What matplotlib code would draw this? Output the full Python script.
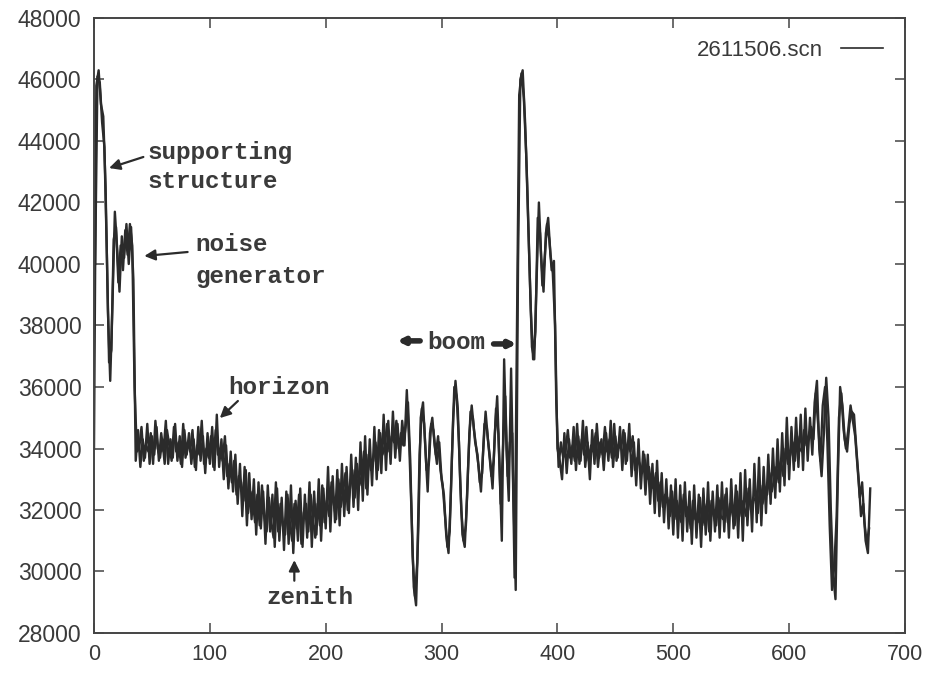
import numpy as np
import matplotlib
matplotlib.use('Agg')
import matplotlib.pyplot as plt

# Two overlapping scans.
# scan_a: even samples 0, 2, ..., 670   scan_b: odd samples 1, 3, ..., 669
scan_a = [
    34000, 45800, 46300, 45200, 44800, 42500, 38500, 36200, 38800, 41700,   # 0
    40500, 39100, 40900, 40200, 41300, 40000, 41200, 39500, 33600, 34600,   # 20
    33400, 34300, 33700, 34800, 33500, 34400, 33800, 34700, 33600, 34500,   # 40
    33900, 34900, 33500, 34300, 33700, 34800, 33600, 34400, 33400, 34600,   # 60
    33800, 34500, 33500, 34300, 33300, 34700, 33600, 34400, 33200, 34500,   # 80
    33500, 34700, 33300, 35100, 33400, 34300, 33000, 34100, 32700, 33900,   # 100
    32600, 33800, 32200, 33500, 31800, 33400, 31500, 33200, 31700, 33000,   # 120
    31200, 32900, 31400, 32600, 30900, 32800, 31300, 32500, 30800, 32700,   # 140
    31000, 32400, 30700, 32600, 30900, 32800, 30600, 32300, 31000, 32700,   # 160
    30800, 32500, 31100, 32900, 30800, 32600, 31200, 33000, 31000, 32700,   # 180
    31400, 33400, 31300, 33100, 31600, 33300, 31500, 33500, 31800, 33400,   # 200
    31900, 33800, 32100, 33700, 32000, 34200, 32300, 34400, 32500, 34300,   # 220
    32800, 34700, 33000, 34600, 33200, 35100, 33300, 34900, 33500, 35200,   # 240
    33700, 34800, 33600, 34900, 34100, 35900, 34200, 32000, 29500, 28900,   # 260
    31500, 35000, 35500, 34000, 32600, 34500, 35000, 34100, 33500, 34200,   # 280
    33000, 32500, 31200, 30600, 32500, 35000, 36200, 35300, 33000, 31200,   # 300
    30800, 32400, 34500, 35400, 34600, 34000, 33400, 32600, 34000, 35200,   # 320
    34300, 33600, 32700, 34500, 35700, 33500, 31000, 36900, 34000, 32300,   # 340
    36600, 32500, 29400, 40000, 46000, 46300, 44700, 42500, 39800, 37300,   # 360
    36900, 39500, 42000, 40200, 39100, 41000, 41500, 40300, 39700, 38000,   # 380
    34000, 33600, 33000, 34500, 33200, 34300, 33500, 34700, 33300, 34400,   # 400
    33600, 34900, 33400, 34200, 33000, 34600, 33500, 34800, 33700, 34300,   # 420
    33300, 34500, 33600, 34900, 33400, 34400, 33700, 34700, 33300, 34500,   # 440
    33600, 34800, 33100, 34200, 32800, 34300, 32700, 33900, 32500, 33800,   # 460
    32200, 33500, 31900, 33600, 31800, 33200, 31600, 33000, 31400, 32800,   # 480
    31200, 33000, 31100, 32800, 31000, 32900, 31300, 32600, 30900, 32800,   # 500
    31100, 32500, 30800, 32700, 31200, 32900, 31000, 32600, 31300, 32800,   # 520
    31100, 32900, 31300, 32700, 31100, 33000, 31400, 32800, 31100, 33200,   # 540
    31000, 33300, 31500, 33000, 31300, 33500, 31600, 33700, 31500, 33400,   # 560
    31900, 33800, 32200, 34000, 32400, 34300, 32600, 34500, 32800, 35000,   # 580
    33000, 34700, 33300, 35000, 33400, 35100, 33300, 35300, 33600, 35000,   # 600
    33800, 35500, 36200, 34000, 33100, 34500, 36300, 35000, 32000, 29900,   # 620
    29100, 33000, 36000, 35400, 34300, 33900, 34800, 35200, 35100, 34000,   # 640
    33000, 31800, 32200, 31000, 30600, 32700,                               # 660
]
scan_b = [
    40000, 46100, 45900, 44600, 43800, 40500, 36800, 37200, 40800, 41200,   # 1
    39400, 40600, 39800, 41100, 40300, 41300, 40600, 36000, 33900, 34000,   # 21
    34700, 33600, 34100, 33900, 34500, 33500, 34900, 34000, 33700, 34300,   # 41
    33500, 34600, 34100, 33600, 34700, 33900, 34200, 33500, 34800, 33700,   # 61
    34200, 33900, 34600, 33400, 34100, 33800, 34900, 33500, 34000, 33700,   # 81
    34400, 33400, 34600, 33800, 34000, 33600, 34400, 33100, 33500, 32900,   # 101
    33600, 32500, 33100, 32900, 32300, 33300, 31900, 32600, 32300, 31600,   # 121
    32500, 31500, 32800, 31800, 31300, 32400, 31600, 31100, 32900, 31300,   # 141
    32200, 31500, 31200, 32500, 31600, 31000, 32200, 31400, 32500, 30900,   # 161
    31900, 32200, 31300, 32500, 31700, 31100, 32200, 31500, 32800, 31600,   # 181
    32300, 31800, 32900, 32200, 31700, 33000, 32100, 32600, 33200, 32000,   # 201
    32700, 33300, 32400, 33500, 32800, 33100, 33900, 32700, 33800, 33300,   # 221
    33600, 34200, 33300, 34500, 33800, 34100, 34800, 33900, 34400, 34200,   # 241
    34900, 34000, 34500, 34100, 34700, 35500, 33600, 30500, 29200, 30300,   # 261
    33800, 35300, 34800, 33300, 33500, 34800, 34600, 33800, 34400, 33300,   # 281
    32800, 31800, 30800, 31300, 33800, 36000, 35700, 34200, 32000, 31000,   # 301
    31500, 33500, 35200, 35000, 34200, 33800, 32900, 33200, 34800, 34700,   # 321
    33900, 33100, 33600, 35300, 34500, 32200, 34000, 35700, 33100, 34200,   # 341
    34500, 29800, 37500, 45500, 46200, 45400, 43600, 41000, 38500, 36900,   # 361
    37800, 41500, 41000, 39300, 40200, 41300, 40800, 39800, 40100, 35500,   # 381
    33400, 34200, 33700, 33900, 34600, 33700, 34100, 33600, 34800, 33500,   # 401
    34300, 33800, 34700, 33600, 34100, 33900, 34500, 33400, 34200, 33800,   # 421
    34700, 33900, 34300, 33700, 34800, 33600, 34100, 34000, 34600, 33500,   # 441
    34200, 33900, 34400, 33300, 33700, 33500, 33200, 33800, 33000, 33400,   # 461
    32800, 32700, 33200, 32300, 32900, 32100, 32500, 32400, 31800, 32600,   # 481
    31700, 32300, 31900, 31600, 32500, 31800, 32100, 31400, 32300, 31700,   # 501
    31600, 32400, 31500, 31900, 32200, 31300, 32300, 31800, 31500, 32400,   # 521
    31800, 31700, 32500, 31600, 32200, 31900, 31500, 32600, 31800, 32300,   # 541
    32100, 31800, 32700, 32000, 32400, 32300, 31900, 32800, 32200, 32600,   # 561
    32500, 33200, 32600, 33000, 33400, 32900, 33600, 33100, 34000, 33500,   # 581
    33800, 34200, 33600, 34400, 34000, 33900, 34600, 34100, 34400, 34700,   # 601
    34300, 35800, 34800, 33600, 35400, 36000, 34200, 31500, 29400, 30200,   # 621
    31800, 35000, 35800, 34600, 34000, 34600, 35400, 34900, 34400, 33400,   # 641
    32400, 32900, 31600, 30900, 31400,                                      # 661
]
samples_a = np.arange(len(scan_a)) * 2
samples_b = np.arange(len(scan_b)) * 2 + 1

x_ticks = [0, 100, 200, 300, 400, 500, 600, 700]
y_ticks = [28000, 30000, 32000, 34000, 36000, 38000, 40000, 42000, 44000, 46000, 48000]

INK = '#2b2b2b'
LABEL_FONT = dict(family='Liberation Mono', fontweight='bold', fontsize=17.5, color='#3a3a3a')
ARROW = dict(arrowstyle='-|>', color=INK, lw=1.6, mutation_scale=16, shrinkA=0, shrinkB=0)

fig = plt.figure(figsize=(9.31, 6.73), dpi=100)
ax = fig.add_axes([94 / 931, 1 - 633 / 673, (905 - 94) / 931, (633 - 18) / 673])

ax.plot(samples_a, scan_a, color=INK, lw=1.7, label='2611506.scn')
ax.plot(samples_b, scan_b, color=INK, lw=1.7)

ax.set_xlim(0, 700)
ax.set_ylim(28000, 48000)
ax.set_xticks(x_ticks)
ax.set_yticks(y_ticks)
ax.tick_params(direction='in', top=True, right=True, length=7, width=1.1, color='#444444')
ax.tick_params(axis='y', labelsize=16.5, pad=9, labelcolor='#3a3a3a')
ax.tick_params(axis='x', labelsize=15.5, pad=8, labelcolor='#3a3a3a')
for lab in ax.get_xticklabels() + ax.get_yticklabels():
    lab.set_family('Liberation Sans')
for sp in ax.spines.values():
    sp.set_linewidth(1.4)
    sp.set_color('#444444')

# annotations
ax.annotate('', xy=(13, 43120), xytext=(42.6, 43480), arrowprops=ARROW)
ax.text(46, 43640, 'supporting', va='center', ha='left', **LABEL_FONT)
ax.text(46, 42670, 'structure', va='center', ha='left', **LABEL_FONT)

ax.annotate('', xy=(43.4, 40260), xytext=(80.8, 40390), arrowprops=ARROW)
ax.text(87.7, 40620, 'noise', va='center', ha='left', **LABEL_FONT)
ax.text(87.7, 39580, 'generator', va='center', ha='left', **LABEL_FONT)

ax.annotate('', xy=(108.6, 34990), xytext=(124.2, 35545), arrowprops=ARROW)
ax.text(115.6, 35970, 'horizon', va='center', ha='left', **LABEL_FONT)

ax.annotate('', xy=(172.9, 30370), xytext=(172.9, 29700), arrowprops=ARROW)
ax.text(186, 29140, 'zenith', va='center', ha='center', **LABEL_FONT)

BOOM_ARROW = dict(arrowstyle='-|>', color=INK, lw=4, mutation_scale=9, shrinkA=0, shrinkB=0)
ax.annotate('', xy=(261.5, 37500), xytext=(281.5, 37500), arrowprops=BOOM_ARROW)
ax.annotate('', xy=(364.9, 37400), xytext=(344.9, 37400), arrowprops=BOOM_ARROW)
ax.text(312.8, 37460, 'boom', va='center', ha='center', **LABEL_FONT)

leg = ax.legend(loc='upper right', frameon=False, markerfirst=False, handlelength=1.9,
                prop={'family': 'Liberation Sans', 'size': 16}, borderaxespad=0.6)
for t in leg.get_texts():
    t.set_color('#3a3a3a')
for h in leg.get_lines():
    h.set_linewidth(1.2)

fig.savefig('out.png', dpi=100)
